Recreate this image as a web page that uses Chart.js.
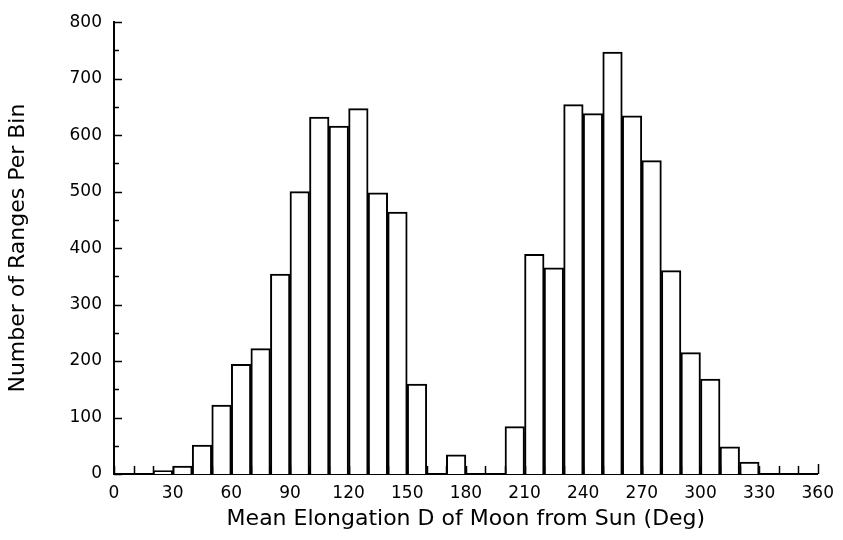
<!DOCTYPE html>
<html>
<head>
<meta charset="utf-8">
<title>Mean Elongation histogram</title>
<script src="https://cdn.jsdelivr.net/npm/chart.js@4"></script>
<style>
  html, body { margin: 0; padding: 0; background: #fff; }
  #wrap { width: 843px; height: 540px; }
</style>
</head>
<body>
<div id="wrap"><canvas id="myChart" width="843" height="540"></canvas></div>
<script>
// bins of 10 deg, left edge of each bin
var binStarts = [0, 10, 20, 30, 40, 50, 60, 70, 80, 90,
                 100, 110, 120, 130, 140, 150, 160, 170, 180, 190,
                 200, 210, 220, 230, 240, 250, 260, 270, 280, 290,
                 300, 310, 320, 330, 340, 350];
var binWidth = 10;
// number of ranges per bin
var counts = [0, 0, 6, 14, 51, 122, 194, 222, 354, 500,
              632, 616, 647, 498, 464, 159, 0, 34, 0, 0,
              84, 389, 365, 654, 638, 747, 634, 555, 360, 215,
              168, 48, 21, 0, 0, 0];
var xTickStep = 30;
var yTickStep = 100;

var tickFont = { family: "DejaVu Sans", size: 17 };
var titleFont = { family: "DejaVu Sans", size: 22 };

// tick marks drawn pointing into the plot, like the original
var inwardTicks = {
  id: 'inwardTicks',
  afterDatasetsDraw: function(chart) {
    var ctx = chart.ctx, x = chart.scales.x, y = chart.scales.y;
    var area = chart.chartArea;
    ctx.save();
    ctx.strokeStyle = '#000';
    ctx.lineWidth = 1.5;
    ctx.beginPath();
    for (var d = x.min; d <= x.max; d += binWidth) {
      var px = Math.round(x.getPixelForValue(d)) + 0.5;
      var len = d === x.max ? 10 : 8;
      ctx.moveTo(px, area.bottom);
      ctx.lineTo(px, area.bottom - len);
    }
    for (var v = y.min; v <= y.max; v += yTickStep / 2) {
      var py = Math.round(y.getPixelForValue(v)) + 0.5;
      var l = (v % yTickStep === 0) ? 8 : 5;
      ctx.moveTo(area.left, py);
      ctx.lineTo(area.left + l, py);
    }
    ctx.stroke();
    ctx.restore();
  }
};

var data = {
  datasets: [{
    label: "Ranges",
    // empty bins are left out so no flat box is drawn on the axis
    data: binStarts.map(function(b, i) {
      return { x: b + binWidth / 2, y: counts[i] === 0 ? null : counts[i] };
    }),
    backgroundColor: "#fff",
    borderColor: "#000",
    borderWidth: 2,
    barPercentage: 1.0,
    categoryPercentage: 1.0
  }]
};

var ctx = document.getElementById("myChart");
var myChart = new Chart(ctx, {
  type: 'bar',
  data: data,
  plugins: [inwardTicks],
  options: {
    responsive: false,
    animation: false,
    layout: { padding: { top: 20, right: 20, left: 0, bottom: 0 } },
    plugins: {
      legend: { display: false },
      tooltip: { enabled: false }
    },
    scales: {
      x: {
        type: 'linear',
        min: 0,
        max: 360,
        offset: false,
        grid: { display: false, drawTicks: false, offset: false },
        border: { display: true, color: '#000', width: 2 },
        ticks: {
          stepSize: xTickStep,
          color: '#000',
          font: tickFont,
          padding: 9,
          maxRotation: 0,
          autoSkip: false
        },
        title: {
          display: true,
          text: 'Mean Elongation D of Moon from Sun (Deg)',
          color: '#000',
          font: titleFont,
          padding: { top: 0, bottom: 8 }
        },
        afterFit: function(scale) { scale.height = 66; }
      },
      y: {
        min: 0,
        max: 800,
        grid: { display: false, drawTicks: false },
        border: { display: true, color: '#000', width: 2 },
        ticks: {
          stepSize: yTickStep,
          color: '#000',
          font: tickFont,
          padding: 12
        },
        title: {
          display: true,
          text: 'Number of Ranges Per Bin',
          color: '#000',
          font: titleFont,
          padding: { top: 5, bottom: 0 }
        },
        afterFit: function(scale) { scale.width = 114; }
      }
    }
  }
});
</script>
</body>
</html>
